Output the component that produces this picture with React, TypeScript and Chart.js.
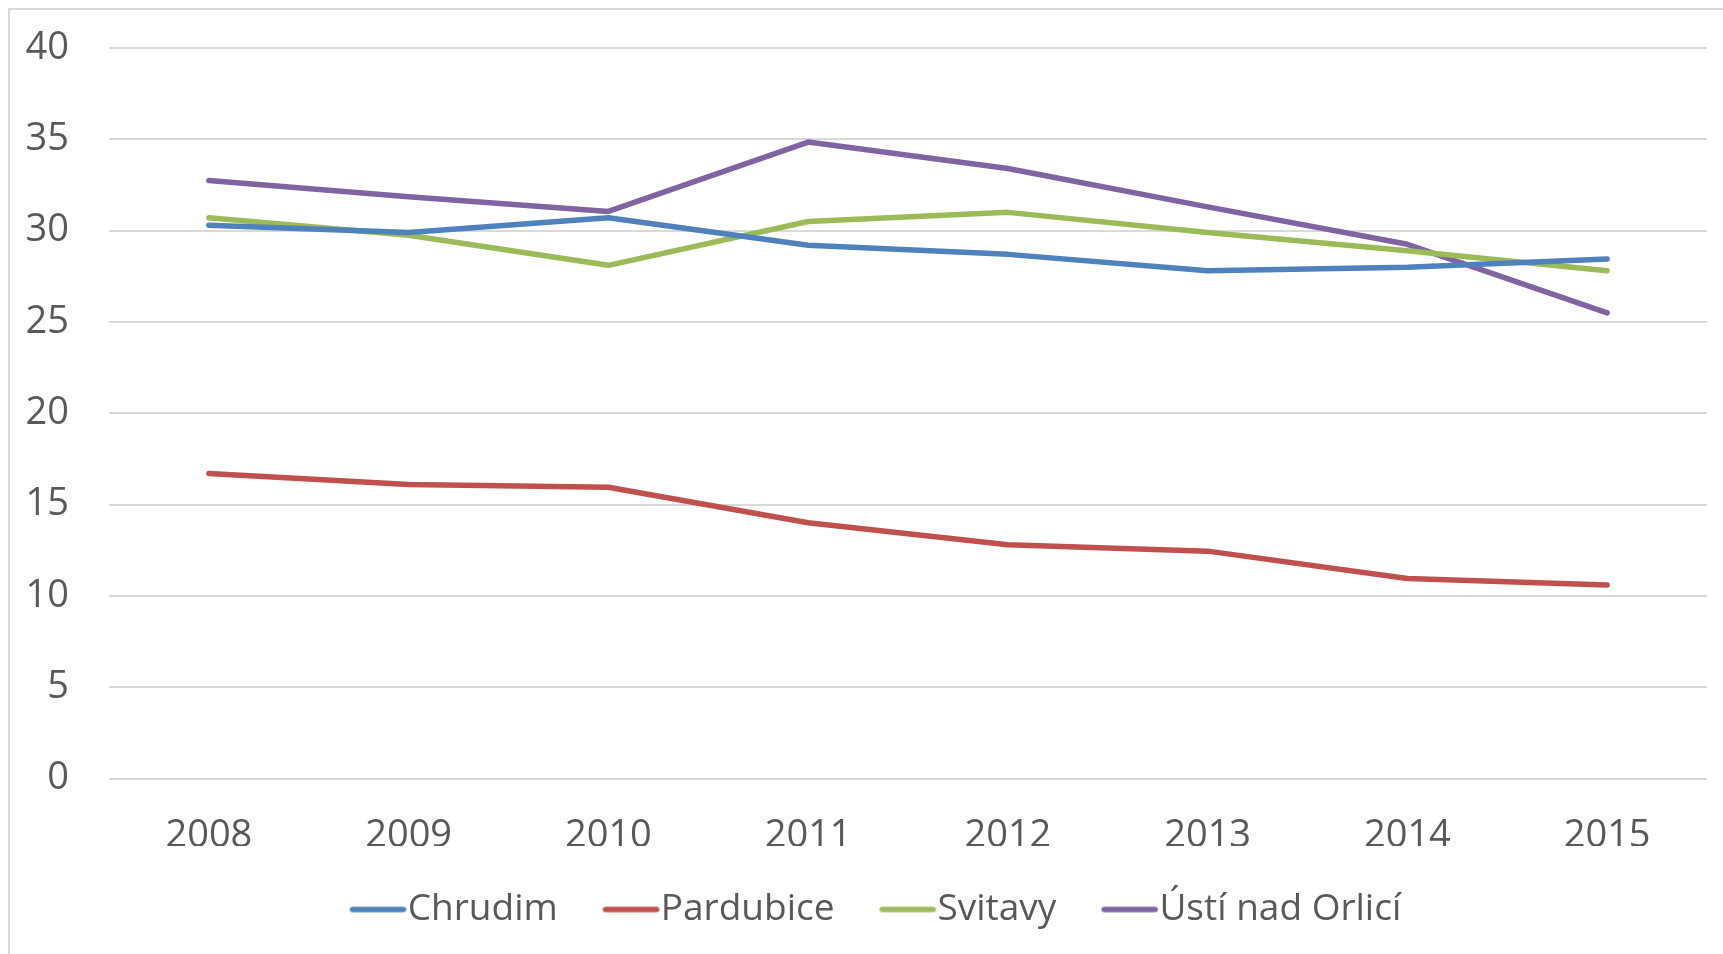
import React, { useEffect, useRef } from "react";
import { Chart, registerables } from "chart.js";

Chart.register(...registerables);

const years = ["2008", "2009", "2010", "2011", "2012", "2013", "2014", "2015"];
const chrudim = [30.3, 29.9, 30.7, 29.2, 28.7, 27.8, 28.0, 28.45];
const pardubice = [16.7, 16.1, 15.95, 14.0, 12.8, 12.45, 10.95, 10.6];
const svitavy = [30.7, 29.75, 28.1, 30.5, 31.0, 29.9, 28.9, 27.8];
const ustiNadOrlici = [32.75, 31.85, 31.05, 34.85, 33.4, 31.3, 29.25, 25.5];

const seriesNames = ["Chrudim", "Pardubice", "Svitavy", "Ústí nad Orlicí"];
const seriesColors = ["#4F81BD", "#C0504D", "#9BBB59", "#8064A2"];

const FONT = "'Open Sans', 'Noto Sans', sans-serif";
const TEXT = "#595959";

function legendLine(color: string): HTMLCanvasElement {
  const c = document.createElement("canvas");
  c.width = 120;
  c.height = 10;
  const ctx = c.getContext("2d")!;
  ctx.strokeStyle = color;
  ctx.lineWidth = 5.5;
  ctx.lineCap = "round";
  ctx.beginPath();
  ctx.moveTo(43, 5);
  ctx.lineTo(94, 5);
  ctx.stroke();
  return c;
}

const shiftLegend = {
  id: "shiftLegend",
  afterLayout(chart: any) {
    if (chart.legend) {
      chart.legend.left += 22;
      chart.legend.right += 22;
    }
  },
};

export default function App() {
  const ref = useRef<HTMLCanvasElement | null>(null);

  useEffect(() => {
    if (!ref.current) return;
    const values = [chrudim, pardubice, svitavy, ustiNadOrlici];
    const imgs = seriesColors.map(legendLine);
    const chart = new Chart(ref.current, {
      type: "line",
      data: {
        labels: years,
        datasets: values.map((v, i) => ({
          label: seriesNames[i],
          data: v,
          borderColor: seriesColors[i],
          backgroundColor: seriesColors[i],
          borderWidth: 5.5,
          borderCapStyle: "round",
          borderJoinStyle: "round",
          pointRadius: 0,
          pointHoverRadius: 0,
          tension: 0,
          fill: false,
        })),
      },
      plugins: [shiftLegend],
      options: {
        animation: false,
        responsive: false,
        layout: { padding: { top: 48, right: 16, left: 0, bottom: 16 } },
        plugins: {
          tooltip: { enabled: false },
          legend: {
            position: "bottom",
            labels: {
              usePointStyle: true,
              pointStyleWidth: 39.5,
              padding: 45,
              color: TEXT,
              font: { family: FONT, size: 37 },
              generateLabels: (ch: any) =>
                Chart.defaults.plugins.legend.labels
                  .generateLabels(ch)
                  .map((l: any, i: number) => ({ ...l, pointStyle: imgs[i] })),
            },
          },
        },
        scales: {
          x: {
            offset: true,
            grid: { display: false, drawTicks: false },
            border: { display: false },
            ticks: {
              color: TEXT,
              font: { family: FONT, size: 38 },
              padding: 35,
              maxRotation: 0,
            },
            afterFit: (s: any) => {
              s.height = 67.5;
              s.paddingTop = 0;
              s.paddingBottom = 0;
            },
          },
          y: {
            min: 0,
            max: 40,
            grid: { color: "#d9d9d9", lineWidth: 2, drawTicks: false },
            border: { display: false },
            ticks: {
              stepSize: 5,
              color: TEXT,
              font: { family: FONT, size: 38 },
              padding: 40,
            },
            afterFit: (s: any) => {
              s.width = 109;
              s.paddingTop = 0;
              s.paddingBottom = 0;
            },
          },
        },
      },
    });
    return () => chart.destroy();
  }, []);

  return (
    <div
      style={{
        position: "absolute",
        left: 0,
        top: 0,
        width: 1723,
        height: 954,
        overflow: "hidden",
        background: "#fff",
      }}
    >
      <canvas ref={ref} width={1723} height={954} style={{ display: "block", width: 1723, height: 954 }} />
      <div
        style={{
          position: "absolute",
          left: 8,
          top: 8,
          width: 1800,
          height: 1000,
          border: "2px solid #d9d9d9",
          pointerEvents: "none",
        }}
      />
    </div>
  );
}
